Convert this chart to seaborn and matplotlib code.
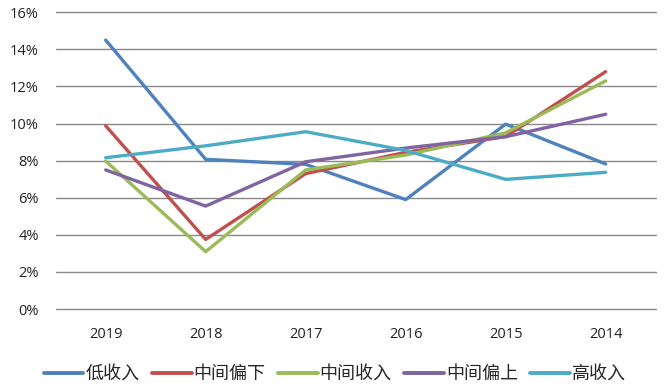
import pandas as pd
import numpy as np
import matplotlib.pyplot as plt
import seaborn as sns
from matplotlib.ticker import PercentFormatter

years = ['2019', '2018', '2017', '2016', '2015', '2014']
low = [14.5, 8.07, 7.8, 5.9, 9.97, 7.82]
lower_mid = [9.88, 3.75, 7.3, 8.45, 9.3, 12.8]
mid = [7.98, 3.09, 7.5, 8.3, 9.5, 12.3]
upper_mid = [7.5, 5.55, 7.94, 8.68, 9.29, 10.5]
high = [8.16, 8.8, 9.56, 8.55, 6.99, 7.37]

groups = ['低收入', '中间偏下', '中间收入', '中间偏上', '高收入']
colors = ['#4F81BD', '#C0504D', '#9BBB59', '#8064A2', '#4BACC6']

df = pd.DataFrame({'year': years, '低收入': low, '中间偏下': lower_mid,
                   '中间收入': mid, '中间偏上': upper_mid, '高收入': high})
df['pos'] = np.arange(len(years))
long_df = df.melt(id_vars=['year', 'pos'], var_name='group', value_name='value')

sns.set_style('white')
plt.rcParams['font.family'] = ['Open Sans', 'Noto Sans CJK SC', 'DejaVu Sans']

fig = plt.figure(figsize=(6.67, 3.88), dpi=100)
ax = fig.add_axes([0.0835, 0.2036, 0.8995, 0.7647])

sns.lineplot(data=long_df, x='pos', y='value', hue='group', hue_order=groups,
             palette=colors, linewidth=2.4, sort=False, ax=ax, legend=False)

ax.set_xlim(-0.5, 5.5)
ax.set_ylim(0, 16)
ax.set_yticks(np.arange(0, 17, 2))
ax.yaxis.set_major_formatter(PercentFormatter(decimals=0))
ax.set_xticks(df['pos'])
ax.set_xticklabels(years)
ax.set_xlabel('')
ax.set_ylabel('')
ax.grid(axis='y', color='#898989', linewidth=1)
for gl in ax.get_ygridlines():
    gl.set_clip_on(False)
ax.set_axisbelow(True)
for s in ax.spines.values():
    s.set_visible(False)
ax.tick_params(axis='both', length=0, labelsize=10.5, colors='#222222')
ax.tick_params(axis='x', pad=13)
ax.tick_params(axis='y', pad=12)

handles = [plt.Line2D([], [], color=c, linewidth=2.8) for c in colors]
fig.legend(handles, groups, loc='center', bbox_to_anchor=(0.502, 0.036), ncol=5,
           frameon=False, handlelength=2.2, handletextpad=0.1,
           columnspacing=0.7, prop={'family': ['Noto Sans CJK SC', 'DejaVu Sans'], 'size': 13})

fig.savefig('out.png', dpi=100)
